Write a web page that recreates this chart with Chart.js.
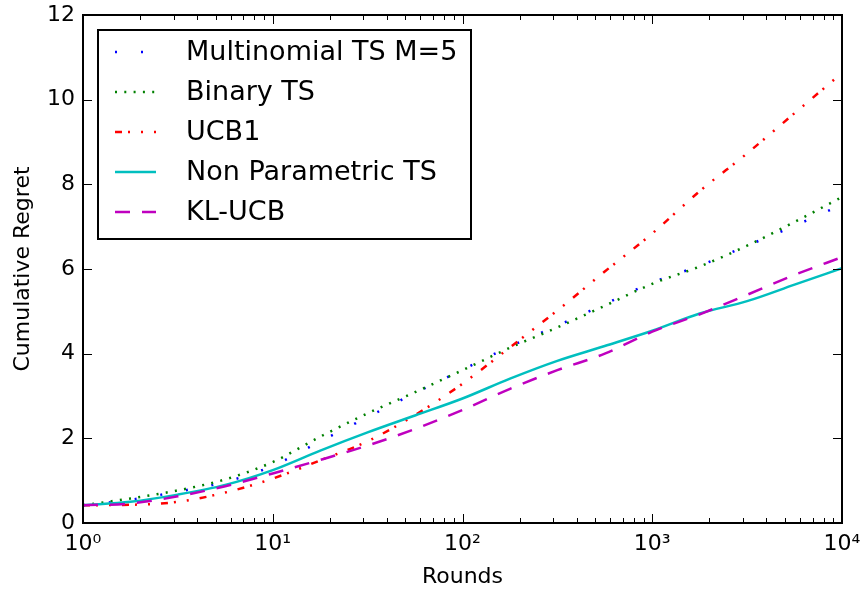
<!DOCTYPE html>
<html>
<head>
<meta charset="utf-8">
<script src="https://cdn.jsdelivr.net/npm/chart.js@4.4.0/dist/chart.umd.min.js"></script>
<style>
html, body { margin: 0; padding: 0; background: #fff; }
</style>
</head>
<body>
<canvas id="grafico" width="862" height="589"></canvas>
<script>
// dados (rodadas em escala log, 10^0 ate 10^4)
const rounds = [1, 1.78, 3.16, 5.62, 10, 17.8, 31.6, 56.2, 100, 178, 316, 562, 1000, 1780, 3160, 5620, 10000];
const multinomialTS = [0.42, 0.55, 0.74, 0.97, 1.35, 1.93, 2.50, 3.07, 3.62, 4.17, 4.66, 5.17, 5.68, 6.08, 6.55, 7.02, 7.52];
const binaryTS = [0.42, 0.58, 0.77, 1.03, 1.44, 2.04, 2.59, 3.09, 3.61, 4.14, 4.62, 5.13, 5.65, 6.06, 6.55, 7.11, 7.70];
const ucb1 = [0.42, 0.43, 0.50, 0.72, 1.05, 1.48, 1.93, 2.55, 3.29, 4.15, 5.02, 5.94, 6.84, 7.84, 8.73, 9.68, 10.63];
const nonParamTS = [0.42, 0.50, 0.67, 0.90, 1.25, 1.71, 2.14, 2.54, 2.94, 3.41, 3.83, 4.18, 4.54, 4.95, 5.24, 5.63, 6.02];
const klUCB = [0.42, 0.46, 0.63, 0.87, 1.17, 1.49, 1.83, 2.22, 2.67, 3.17, 3.61, 4.00, 4.52, 4.93, 5.39, 5.86, 6.28];

const xTicks = [1, 10, 100, 1000, 10000];
const xTickLabels = ['10\u2070', '10\u00b9', '10\u00b2', '10\u00b3', '10\u2074'];
const yTicks = [0, 2, 4, 6, 8, 10, 12];

const fonte = 'DejaVu Sans';

function serie(vals) {
    return vals.map((v, i) => ({ x: rounds[i], y: v }));
}

function semPadding(scale) {
    scale.paddingLeft = 0;
    scale.paddingRight = 0;
    scale.paddingTop = 0;
    scale.paddingBottom = 0;
}

// ticks para dentro nos quatro lados + moldura
const eixos = {
    id: 'eixos',
    afterDatasetsDraw(chart) {
        const { ctx, chartArea: a, scales: { x, y } } = chart;
        ctx.save();
        ctx.strokeStyle = '#000';
        ctx.lineWidth = 1;
        ctx.beginPath();
        yTicks.forEach(v => {
            const py = Math.round(y.getPixelForValue(v)) + 0.5;
            ctx.moveTo(a.left, py); ctx.lineTo(a.left + 9, py);
            ctx.moveTo(a.right, py); ctx.lineTo(a.right - 9, py);
        });
        for (let d = 1; d <= 10000; d *= 10) {
            for (let m = 1; m < 10; m++) {
                const v = d * m;
                if (v > 10000) break;
                const len = m === 1 ? 9 : 5;
                const px = Math.round(x.getPixelForValue(v)) + 0.5;
                ctx.moveTo(px, a.bottom); ctx.lineTo(px, a.bottom - len);
                ctx.moveTo(px, a.top); ctx.lineTo(px, a.top + len);
            }
        }
        ctx.stroke();
        ctx.lineWidth = 2;
        ctx.strokeRect(a.left, a.top, a.right - a.left, a.bottom - a.top);
        ctx.restore();
    }
};

// legenda dentro da area, estilo matplotlib
const legenda = {
    id: 'legenda',
    afterDraw(chart) {
        const { ctx, chartArea: a } = chart;
        const bx = a.left + 15, by = a.top + 15, bw = 373, bh = 209;
        ctx.save();
        ctx.fillStyle = '#fff';
        ctx.fillRect(bx, by, bw, bh);
        ctx.strokeStyle = '#000';
        ctx.lineWidth = 2;
        ctx.strokeRect(bx, by, bw, bh);
        chart.data.datasets.forEach((ds, i) => {
            const cy = by + 22 + i * 40;
            ctx.strokeStyle = ds.borderColor;
            ctx.lineWidth = ds.borderWidth;
            ctx.setLineDash(ds.borderDash || []);
            ctx.beginPath();
            ctx.moveTo(bx + 17, cy);
            ctx.lineTo(bx + 58, cy);
            ctx.stroke();
            ctx.setLineDash([]);
            ctx.fillStyle = '#000';
            ctx.font = '27px "' + fonte + '"';
            ctx.textBaseline = 'middle';
            ctx.fillText(ds.label, bx + 88, cy + 1);
        });
        ctx.restore();
    }
};

const ctx = document.getElementById('grafico').getContext('2d');

const data = {
    datasets: [
        { label: 'Multinomial TS M=5', data: serie(multinomialTS), borderColor: 'rgb(0, 0, 255)', borderWidth: 2.5, borderDash: [2, 24], order: 5 },
        { label: 'Binary TS', data: serie(binaryTS), borderColor: 'rgb(0, 128, 0)', borderWidth: 2.5, borderDash: [2, 7.3], order: 4 },
        { label: 'UCB1', data: serie(ucb1), borderColor: 'rgb(255, 0, 0)', borderWidth: 2.5, borderDash: [7, 6, 2, 11, 2, 11], order: 3 },
        { label: 'Non Parametric TS', data: serie(nonParamTS), borderColor: 'rgb(0, 191, 191)', borderWidth: 2.5, order: 2 },
        { label: 'KL-UCB', data: serie(klUCB), borderColor: 'rgb(191, 0, 191)', borderWidth: 2.5, borderDash: [15, 12], order: 1 }
    ]
};

const config = {
    type: 'line',
    data: data,
    options: {
        responsive: false,
        animation: false,
        layout: {
            autoPadding: false,
            padding: { top: 15, right: 20, left: 0, bottom: 0 }
        },
        elements: {
            point: { radius: 0 },
            line: { cubicInterpolationMode: 'monotone', borderCapStyle: 'butt', fill: false }
        },
        plugins: {
            legend: { display: false },
            tooltip: { enabled: false }
        },
        scales: {
            x: {
                type: 'logarithmic',
                min: 1,
                max: 10000,
                grid: { display: false, drawTicks: false },
                border: { display: false },
                afterBuildTicks: function (scale) {
                    scale.ticks = xTicks.map(v => ({ value: v }));
                },
                afterFit: function (scale) { scale.height = 66; semPadding(scale); },
                ticks: {
                    autoSkip: false,
                    maxRotation: 0,
                    padding: 8,
                    color: '#000',
                    font: { family: fonte, size: 22 },
                    callback: function (value) {
                        const i = xTicks.indexOf(value);
                        return i >= 0 ? xTickLabels[i] : '';
                    }
                },
                title: {
                    display: true,
                    text: 'Rounds',
                    color: '#000',
                    font: { family: fonte, size: 22 },
                    padding: { top: 0, bottom: -1 }
                }
            },
            y: {
                min: 0,
                max: 12,
                grid: { display: false, drawTicks: false },
                border: { display: false },
                afterBuildTicks: function (scale) {
                    scale.ticks = yTicks.map(v => ({ value: v }));
                },
                afterFit: function (scale) { scale.width = 83; semPadding(scale); },
                ticks: {
                    padding: 8,
                    color: '#000',
                    font: { family: fonte, size: 22 }
                },
                title: {
                    display: true,
                    text: 'Cumulative Regret',
                    color: '#000',
                    font: { family: fonte, size: 22 },
                    padding: { top: 10, bottom: 0 }
                }
            }
        }
    },
    plugins: [eixos, legenda]
};

new Chart(ctx, config);
</script>
</body>
</html>
